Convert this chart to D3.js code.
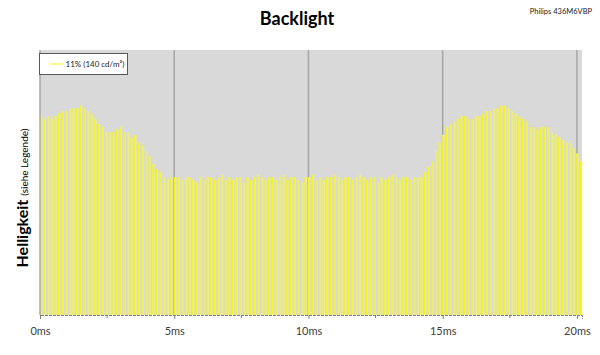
<!DOCTYPE html>
<html>
<head>
<meta charset="utf-8">
<script src="https://cdn.jsdelivr.net/npm/d3@7"></script>
<style>
  body { margin: 0; background: #fff; }
  svg { display: block; font-family: Lato, 'Liberation Sans', sans-serif; }
</style>
</head>
<body>
<svg id="chart" width="600" height="355"></svg>
<script>
// pulse period of the PWM signal (ms) and the peak of each pulse (% brightness)
const pulsePeriod = 0.135
const pulsePeaks = [
  75, 74, 75, 74, 75, 76, 77, 77, 78, 78, 78, 79, 78, 77, 76, 74, 72, 71, 69, 69,
  69, 70, 71, 69, 69, 67, 68, 65, 64, 62, 60, 57, 55, 54, 52, 51, 52, 52, 52, 51,
  52, 52, 51, 50, 52, 51, 52, 52, 51, 52, 53, 51, 52, 51, 52, 52, 50, 52, 51, 52,
  53, 52, 51, 52, 52, 51, 52, 53, 51, 52, 52, 51, 50, 52, 52, 53, 51, 52, 51, 52,
  52, 53, 52, 51, 52, 52, 51, 52, 53, 52, 51, 52, 52, 50, 52, 51, 52, 53, 52, 51,
  52, 52, 51, 52, 52, 52, 54, 56, 58, 62, 65, 68, 71, 72, 73, 74, 75, 75, 74, 74,
  75, 75, 76, 77, 77, 78, 78, 79, 79, 78, 77, 76, 75, 74, 73, 71, 71, 70, 71, 71,
  71, 69, 68, 67, 66, 65, 65, 63, 61, 58
]
const xTicks = [0, 5, 10, 15, 20]
const xMinorTicks = [2.5, 7.5, 12.5, 17.5]
const legendLabel = '11% (140 cd/m²)'

const svg = d3.select('#chart')
const width = 600
const height = 355
const margin = { top: 50, right: 18, bottom: 40, left: 40 }
const innerWidth = width - margin.left - margin.right
const innerHeight = height - margin.top - margin.bottom

// title + model
svg.append('text')
  .attr('x', 297)
  .attr('y', 25)
  .attr('text-anchor', 'middle')
  .attr('font-weight', 'bold')
  .attr('font-size', 18)
  .attr('fill', '#000')
  .text('Backlight')

svg.append('text')
  .attr('x', 592)
  .attr('y', 14)
  .attr('text-anchor', 'end')
  .attr('font-size', 7.5)
  .attr('fill', '#222')
  .text('Philips 436M6VBP')

// y title
const yTitle = svg.append('text')
  .attr('transform', 'translate(28,198) rotate(-90)')
  .attr('text-anchor', 'middle')
  .attr('fill', '#000')
yTitle.append('tspan').attr('font-weight', 'bold').attr('font-size', 16).text('Helligkeit ')
yTitle.append('tspan').attr('font-size', 10).text('(siehe Legende)')

const g = svg.append('g').attr('transform', `translate(${margin.left},${margin.top})`)

const x = d3.scaleLinear().domain([0, 20.19]).range([0, innerWidth])
const y = d3.scaleLinear().domain([0, 100]).range([innerHeight, 0])

g.append('rect')
  .attr('width', innerWidth)
  .attr('height', innerHeight)
  .attr('fill', '#d9d9d9')

// vertical gridlines
g.selectAll('.grid')
  .data(xTicks.slice(1))
  .enter()
  .append('line')
  .attr('x1', d => x(d)).attr('x2', d => x(d))
  .attr('y1', 0).attr('y2', innerHeight)
  .attr('stroke', '#a6a6a6')
  .attr('stroke-width', 1.5)

// pulses
const pulses = pulsePeaks.map((v, i) => ({ t: i * pulsePeriod, v }))
g.selectAll('.pulse')
  .data(pulses)
  .enter()
  .append('rect')
  .attr('x', d => x(d.t))
  .attr('y', d => y(d.v))
  .attr('width', 2.3)
  .attr('height', d => innerHeight - y(d.v))
  .attr('fill', '#ecec88')
g.selectAll('.pulseEdge')
  .data(pulses)
  .enter()
  .append('line')
  .attr('x1', d => x(d.t) + 0.5).attr('x2', d => x(d.t) + 0.5)
  .attr('y1', d => y(d.v)).attr('y2', innerHeight)
  .attr('stroke', '#f4f420')
  .attr('stroke-width', 1)

// y axis line
g.append('line')
  .attr('x1', 0).attr('x2', 0)
  .attr('y1', 0).attr('y2', innerHeight)
  .attr('stroke', '#a6a6a6')
  .attr('stroke-width', 1.5)

// x axis
const xAxis = g.append('g')
  .attr('transform', `translate(0,${innerHeight})`)
  .call(d3.axisBottom(x).tickValues(xTicks).tickFormat(d => d + 'ms').tickSize(4).tickPadding(8))
xAxis.select('.domain').attr('stroke', '#7f7f7f').attr('stroke-dasharray', '3,1')
xAxis.selectAll('.tick line').attr('stroke', '#7f7f7f')
xAxis.selectAll('text')
  .attr('font-size', 11)
  .attr('fill', '#404040')
  .attr('font-family', 'Lato, sans-serif')
xAxis.selectAll('.minor')
  .data(xMinorTicks)
  .enter()
  .append('line')
  .attr('x1', d => x(d)).attr('x2', d => x(d))
  .attr('y1', 0).attr('y2', 3)
  .attr('stroke', '#7f7f7f')

// legend
const legend = svg.append('g').attr('transform', 'translate(39.5,53.5)')
legend.append('rect')
  .attr('width', 88)
  .attr('height', 21)
  .attr('fill', '#fff')
  .attr('stroke', '#595959')
legend.append('line')
  .attr('x1', 10).attr('x2', 24)
  .attr('y1', 10.5).attr('y2', 10.5)
  .attr('stroke', '#f4f420')
  .attr('stroke-width', 1)
legend.append('text')
  .attr('x', 26)
  .attr('y', 13)
  .attr('font-size', 8)
  .attr('fill', '#222')
  .text(legendLabel)
</script>
</body>
</html>
